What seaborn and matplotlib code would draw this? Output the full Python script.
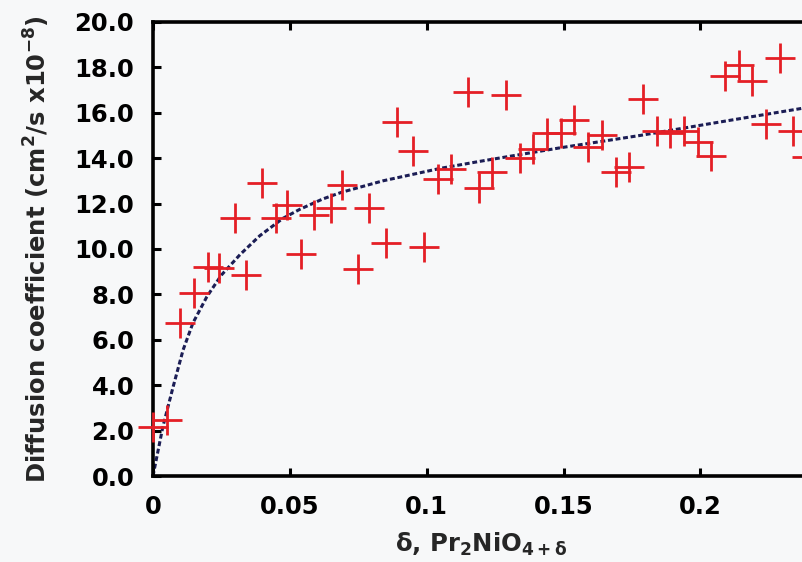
import numpy as np
import seaborn as sns
import matplotlib
matplotlib.use("Agg")
import matplotlib.pyplot as plt
from matplotlib.ticker import FormatStrFormatter

# dados
delta = [0.000, 0.005, 0.010, 0.015, 0.020, 0.024, 0.030, 0.034, 0.040, 0.045,
         0.049, 0.054, 0.059, 0.065, 0.069, 0.075, 0.079, 0.085, 0.089, 0.095,
         0.099, 0.104, 0.109, 0.115, 0.119, 0.124, 0.129, 0.134, 0.139, 0.144,
         0.149, 0.154, 0.159, 0.164, 0.169, 0.174, 0.179, 0.184, 0.189, 0.194,
         0.199, 0.204, 0.209, 0.214, 0.219, 0.224, 0.229, 0.234, 0.239]
diff_coef = [2.15, 2.47, 6.74, 8.06, 9.2, 9.16, 11.37, 8.85, 12.9, 11.37,
             11.94, 9.8, 11.5, 11.8, 12.8, 9.1, 11.8, 10.25, 15.6, 14.3,
             10.1, 13.1, 13.5, 16.9, 12.7, 13.4, 16.8, 14.0, 14.4, 15.1,
             15.1, 15.7, 14.5, 15.0, 13.4, 13.6, 16.6, 15.2, 15.1, 15.2,
             14.7, 14.1, 17.6, 18.1, 17.4, 15.5, 18.4, 15.2, 14.05]

# curva ajustada (tracejada)
fit_x = [0.0, 0.0036, 0.0073, 0.011, 0.0146, 0.0197, 0.025, 0.0318, 0.039,
         0.0475, 0.0537, 0.062, 0.069, 0.084, 0.105, 0.119, 0.1485, 0.178,
         0.21, 0.24]
fit_y = [0.0, 2.16, 3.9, 5.55, 6.74, 7.9, 8.85, 9.75, 10.58,
         11.35, 11.75, 12.2, 12.5, 13.0, 13.55, 13.85, 14.45, 15.0,
         15.65, 16.25]

x_ticks = [0, 0.05, 0.1, 0.15, 0.2]
x_ticklabels = ["0", "0.05", "0.1", "0.15", "0.2"]
y_ticks = np.arange(0, 20.1, 2.0)

bg = "#f7f8f9"
red = "#e41f26"
navy = "#1b1d55"

sns.set_style("ticks")
plt.rcParams["font.family"] = ["DejaVu Sans"]
plt.rcParams["font.weight"] = "bold"
plt.rcParams["mathtext.fontset"] = "custom"
plt.rcParams["mathtext.rm"] = "DejaVu Sans:bold"
plt.rcParams["mathtext.it"] = "DejaVu Sans:bold"
plt.rcParams["mathtext.bf"] = "DejaVu Sans:bold"

fig = plt.figure(figsize=(8.03, 5.62), dpi=100, facecolor=bg)
ax = fig.add_axes([0.1905, 0.153, 0.818, 0.808])
ax.set_facecolor(bg)

sns.lineplot(x=fit_x, y=fit_y, ax=ax, color=navy, linewidth=2.2,
             linestyle=(0, (1.6, 0.9)), zorder=2)
sns.scatterplot(x=delta, y=diff_coef, ax=ax, marker="+", s=470, color=red,
                linewidth=2.0, zorder=3, clip_on=False)

ax.set_xlim(0, 0.24)
ax.set_ylim(0, 20)
ax.set_xticks(x_ticks)
ax.set_xticklabels(x_ticklabels)
ax.set_yticks(y_ticks)
ax.yaxis.set_major_formatter(FormatStrFormatter("%.1f"))

ax.tick_params(direction="in", length=6, width=2.2, labelsize=17.5,
               top=True, right=True, pad=13.5, colors="black")
for sp in ax.spines.values():
    sp.set_linewidth(2.6)
    sp.set_color("black")

ax.set_xlabel(r"$\delta$, Pr$_2$NiO$_{4+\delta}$", fontsize=17.5, fontweight="bold", labelpad=9)
ax.set_ylabel(r"Diffusion coefficient (cm$^2$/s x10$^{-8}$)", fontsize=17.5,
              fontweight="bold", labelpad=16)

fig.savefig("out.png", dpi=100, facecolor=bg)
